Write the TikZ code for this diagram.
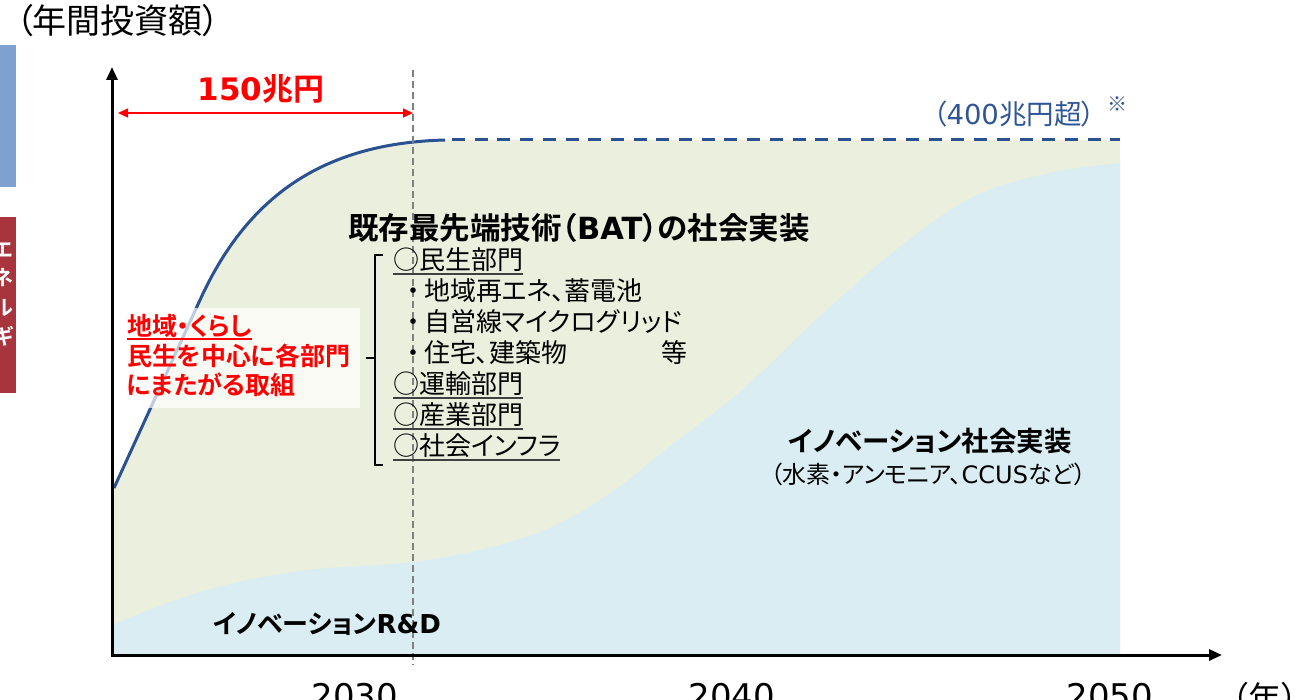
\documentclass[tikz,border=0pt]{standalone}
\usepackage{fontspec}
\setmainfont{Noto Sans CJK JP}[BoldFont={Noto Sans CJK JP Bold},CharacterWidth=AlternateProportional]
\newfontfamily\lat{DejaVu Sans}
\usetikzlibrary{arrows.meta}
\definecolor{gfill}{HTML}{EBEFDD}
\definecolor{bfill}{HTML}{DAEDF3}
\definecolor{curvec}{HTML}{2A5290}
\definecolor{bluebar}{HTML}{7FA1D0}
\definecolor{redbar}{HTML}{A8343E}
\definecolor{txtblue}{HTML}{2F5597}
\definecolor{gline}{HTML}{808080}
\definecolor{myred}{HTML}{FF0000}
\newcommand\myfs[1]{\fontsize{#1}{#1}\selectfont}
\begin{document}
\begin{tikzpicture}[x=1pt,y=-1pt,
  txt/.style={inner sep=0pt, outer sep=0pt},
  ax/.style={line width=3pt, -{Triangle[length=13pt,width=11pt]}},
  uline/.style={line width=1.2pt, black!75},
  listtxt/.style={txt, anchor=base west, font=\myfs{26}},
  redtxt/.style={txt, anchor=base west, text=myred, font=\myfs{25}\bfseries},
  vchar/.style={txt, anchor=center, text=white, font=\myfs{21}\bfseries},
]
\useasboundingbox (0,0) rectangle (1299,700);
% side bars
\fill[bluebar] (0,45) rectangle (16,187);
\begin{scope}
  \clip (0,217) rectangle (16,393);
  \fill[redbar] (0,217) rectangle (16,393);
  \node[vchar] (v1) at (3,250) {エ};
  \node[vchar] (v2) at (3,278) {ネ};
  \node[vchar] (v3) at (3,308) {ル};
  \node[vchar] (v4) at (3,336) {ギ};
\end{scope}
% fills
\fill[gfill] (114,488) -- (200,300) .. controls (250,190) and (330,143) .. (445,140) -- (1120,140) -- (1120,655) -- (112,655) -- (112,488) -- cycle;
\fill[bfill] plot[smooth, tension=0.6] coordinates {(112,625) (200,592) (300,571) (413,562) (500,545) (560,523) (615,490) (665,450) (742,390) (819,317) (896,250) (973,197) (1050,173) (1120,163)} -- (1120,655) -- (112,655) -- cycle;
% total curve
\draw[curvec, line width=3pt] (114,488) -- (200,300) .. controls (250,190) and (330,143) .. (445,140);
\draw[curvec, line width=3pt, dash pattern=on 13pt off 9.7pt] (452,140) -- (1120,140);
% overlay box
\fill[white, opacity=0.7] (117,308) rectangle (360,408);
% vertical dashed 2030 line
\draw[gline, line width=1.5pt, dash pattern=on 7pt off 4pt] (413,70) -- (413,665);
% axes
\draw[ax] (112,657) -- (112,67);
\draw[ax] (110.5,655) -- (1222,655);
% red span arrow
\coordinate (s1) at (118,113);
\coordinate (s2) at (413,113);
\draw[myred, line width=1.5pt, {Triangle[length=10pt,width=9pt]}-{Triangle[length=10pt,width=9pt]}] (s1) -- (s2);
\node[txt, anchor=base, text=myred, font=\myfs{31}\bfseries] (amt) at (261,101) {{\lat 150}兆円};
% title
\node[txt, anchor=base, font=\myfs{34}] (title) at (118,34) {（年間投資額）};
% 400 label
\node[txt, anchor=base, text=txtblue, font=\myfs{27.5}] (max) at (1014,125) {（{\lat 400}兆円超）};
\node[txt, anchor=base, text=txtblue, font=\myfs{20}] (note) at (1117,112) {※};
% BAT heading
\node[txt, anchor=base, font=\myfs{30.5}\bfseries] (bat) at (579,240) {既存最先端技術（{\lat BAT}）の社会実装};
% bracket
\draw[line width=1.5pt] (383,255) -- (375,255) -- (375,465) -- (383,465);
\draw[line width=1.5pt] (366,358) -- (375,358);
% list
\node[listtxt] (m1) at (393,270) {○民生部門};
\node[txt, anchor=base, font=\myfs{26}] (b1) at (413,301) {・};
\node[listtxt] (m1a) at (424,301) {地域再エネ、蓄電池};
\node[txt, anchor=base, font=\myfs{26}] (b2) at (413,332) {・};
\node[listtxt] (m1b) at (424,332) {自営線マイクログリッド};
\node[txt, anchor=base, font=\myfs{26}] (b3) at (413,363) {・};
\node[listtxt] (m1c) at (424,363) {住宅、建築物};
\node[listtxt] (etc) at (661,363) {等};
\node[listtxt] (m2) at (393,394) {○運輸部門};
\node[listtxt] (m3) at (393,425) {○産業部門};
\node[listtxt] (m4) at (393,456) {○社会インフラ};
\foreach \n in {m1,m2,m3,m4}
  \draw[uline] ([yshift=-4pt]\n.base west) -- ([yshift=-4pt]\n.base east);
% red text
\node[redtxt] (r1) at (127,336) {地域・くらし};
\node[redtxt] (r2) at (127,366) {民生を中心に各部門};
\node[redtxt] (r3) at (127,395) {にまたがる取組};
\draw[myred, line width=1.5pt] ([yshift=-3pt]r1.base west) -- ([yshift=-3pt]r1.base east);
% innovation labels
\node[txt, anchor=base, font=\myfs{27.5}\bfseries] (inv) at (930,452) {イノベーション社会実装};
\node[txt, anchor=base, font=\myfs{24}] (invsub) at (928,483) {（水素・アンモニア、{\lat CCUS}など）};
\node[txt, anchor=base, font=\myfs{26}\bfseries] (rd) at (327,633) {イノベーション{\lat R\&D}};
% years
\node[txt, anchor=base, font=\myfs{34}\lat] (y1) at (355,708) {2030};
\node[txt, anchor=base, font=\myfs{34}\lat] (y2) at (732,708) {2040};
\node[txt, anchor=base, font=\myfs{34}\lat] (y3) at (1110,708) {2050};
\node[txt, anchor=base, font=\myfs{33}] (yu) at (1265,710) {（年）};
\end{tikzpicture}
\end{document}
